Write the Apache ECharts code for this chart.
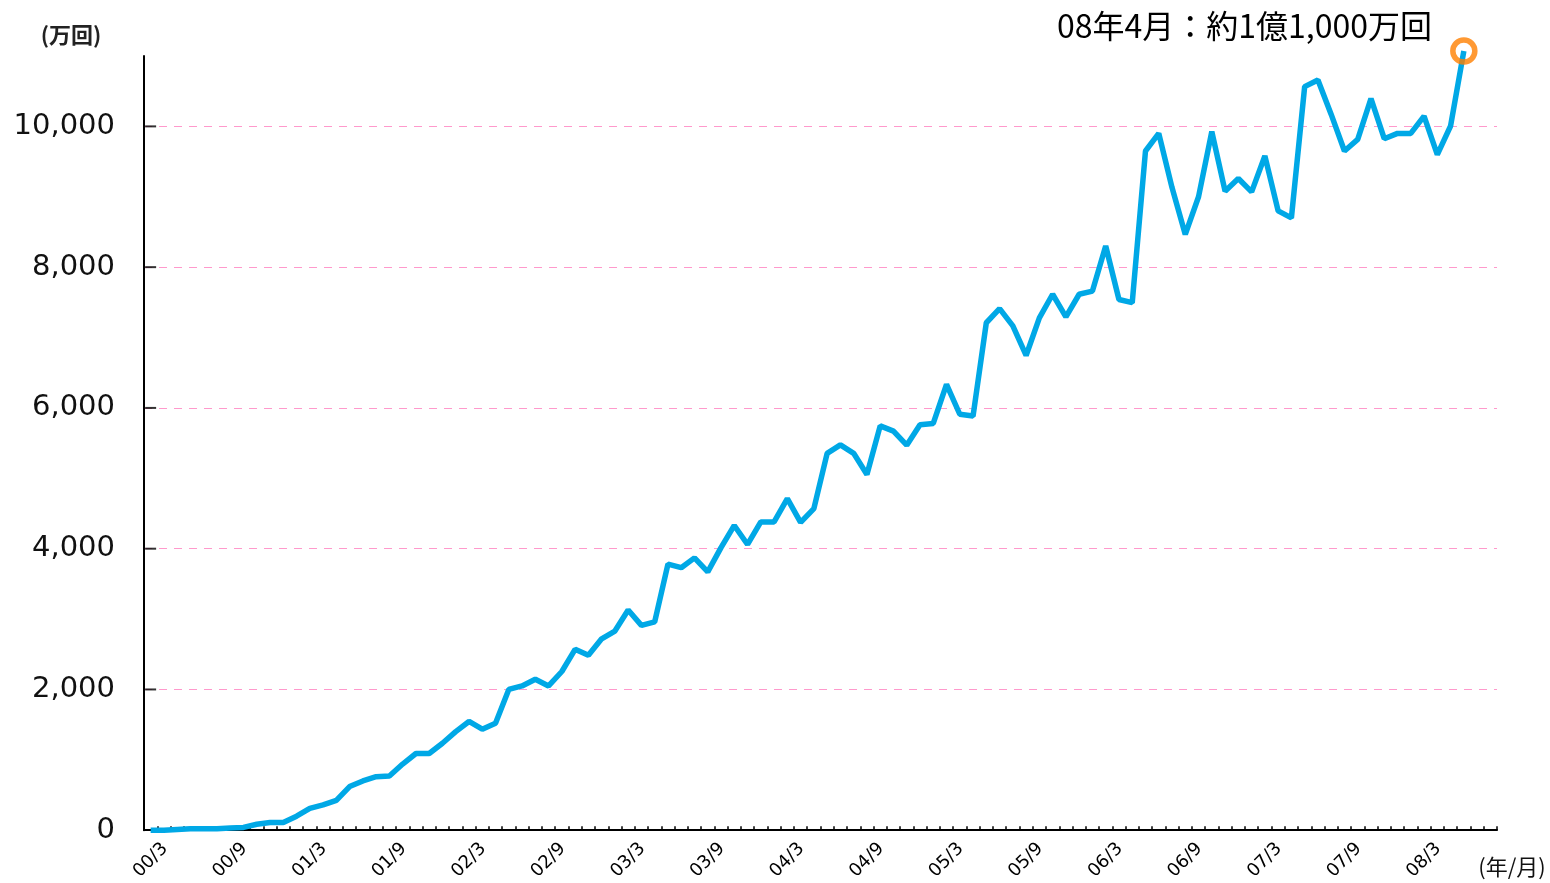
<!DOCTYPE html>
<html>
<head>
<meta charset="utf-8">
<title>chart</title>
<script src="https://cdn.jsdelivr.net/npm/echarts@6/dist/echarts.min.js"></script>
<style>
  html, body { margin: 0; padding: 0; background: #fff; }
  #chart { width: 1550px; height: 883px; }
</style>
</head>
<body>
<div id="chart"></div>
<script>
// months from 00/3 on, the axis runs a little past the last value
const startYear = 0;
const startMonth = 3;
const monthCount = 102;
const categories = [];
for (let i = 0; i < monthCount; i++) {
  const m = startMonth - 1 + i;
  const yy = String(startYear + Math.floor(m / 12)).padStart(2, "0");
  categories.push(yy + "/" + ((m % 12) + 1));
}

// 万回
const views = [
  0, 0, 10, 20, 20, 20, 30, 40, 85, 110,
  110, 200, 310, 360, 425, 620, 700, 760, 770, 940,
  1090, 1090, 1235, 1400, 1545, 1435, 1520, 2000, 2050, 2145,
  2050, 2255, 2570, 2485, 2720, 2830, 3130, 2910, 2960, 3780,
  3730, 3870, 3670, 4015, 4330, 4060, 4380, 4380, 4710, 4375,
  4570, 5355, 5475, 5355, 5055, 5745, 5670, 5470, 5760, 5780,
  6335, 5910, 5885, 7210, 7410, 7165, 6745, 7280, 7615, 7295,
  7615, 7660, 8300, 7540, 7495, 9650, 9900, 9130, 8465, 9000,
  9925, 9080, 9260, 9070, 9580, 8800, 8700, 10565, 10660, 10170,
  9650, 9815, 10395, 9825, 9900, 9900, 10145, 9600, 10005, 11070
];

const yTickValues = [2000, 4000, 6000, 8000, 10000];
const note = "08年4月：約1億1,000万回";
const yUnit = "(万回)";
const xUnit = "(年/月)";

const chart = echarts.init(document.getElementById("chart"));
const lastIndex = views.length - 1;

chart.setOption({
  animation: false,
  backgroundColor: "#fff",
  grid: { left: 144, right: 53, top: 56, bottom: 52, containLabel: false },
  xAxis: {
    type: "category",
    data: categories,
    boundaryGap: true,
    z: 3,
    axisLine: { show: true, lineStyle: { color: "#000", width: 2 } },
    axisTick: { show: true, inside: true, length: 4, interval: 0, lineStyle: { color: "#000", width: 1.5 } },
    axisLabel: {
      interval: 5,
      rotate: 45,
      align: "center",
      verticalAlign: "middle",
      margin: 30,
      color: "#000",
      fontSize: 18,
      fontFamily: "DejaVu Sans"
    },
    splitLine: { show: false }
  },
  yAxis: [
    {
      // grid lines only, kept under the axis ticks
      type: "value",
      position: "left",
      min: 0,
      max: 11000,
      interval: 2000,
      z: 0,
      axisLine: { show: false },
      axisTick: { show: false },
      axisLabel: { show: false },
      splitLine: {
        show: true,
        showMinLine: false,
        showMaxLine: false,
        lineStyle: { color: "#ff99cc", width: 1.2, type: [8, 7] }
      }
    },
    {
      type: "value",
      position: "left",
      offset: 0,
      min: 0,
      max: 11000,
      interval: 2000,
      z: 3,
      axisLine: { show: true, lineStyle: { color: "#000", width: 2 } },
      axisTick: { show: false },
      axisLabel: {
        showMaxLabel: false,
        margin: 29,
        color: "#111",
        fontSize: 29,
        fontFamily: "DejaVu Sans",
        formatter: (v) => v.toLocaleString("en-US")
      },
      splitLine: { show: false }
    }
  ],
  series: [
    {
      // short inside ticks on the value axis, first band sits against it
      type: "scatter",
      data: yTickValues.map((v) => [0, v]),
      yAxisIndex: 0,
      silent: true,
      symbol: "rect",
      symbolSize: [11, 2],
      itemStyle: { color: "#000" },
      z: 3
    },
    {
      type: "line",
      data: views,
      yAxisIndex: 0,
      showSymbol: false,
      clip: false,
      lineStyle: { color: "#00a8e6", width: 5.5 },
      z: 4
    },
    {
      type: "scatter",
      data: [[lastIndex, views[lastIndex]]],
      yAxisIndex: 0,
      clip: false,
      symbol: "circle",
      symbolSize: 22,
      itemStyle: { color: "rgba(0,0,0,0)", borderColor: "#ff7f00", borderWidth: 5.5 },
      z: 5
    }
  ],
  graphic: [
    {
      type: "text",
      x: 71, y: 35,
      style: { text: yUnit, align: "center", verticalAlign: "middle", fontSize: 22, fontWeight: "bold", fontFamily: "Noto Sans CJK JP", fill: "#222" }
    },
    {
      type: "text",
      x: 1512, y: 867,
      style: { text: xUnit, align: "center", verticalAlign: "middle", fontSize: 22, fontFamily: "Noto Sans CJK JP", fill: "#111" }
    },
    {
      type: "text",
      x: 1432, y: 26,
      style: { text: note, align: "right", verticalAlign: "middle", fontSize: 32, fontFamily: "Noto Sans CJK JP", fill: "#000" }
    }
  ]
});
</script>
</body>
</html>
